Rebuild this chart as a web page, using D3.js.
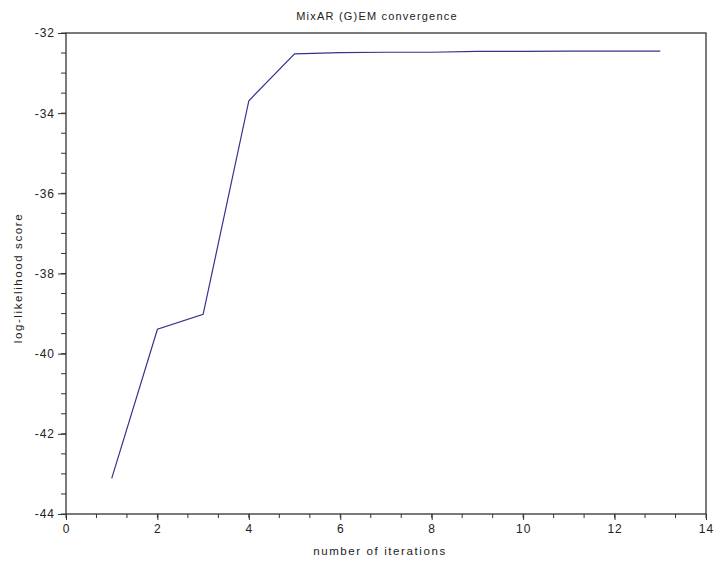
<!DOCTYPE html>
<html>
<head>
<meta charset="utf-8">
<script src="https://cdn.jsdelivr.net/npm/d3@7"></script>
<style>
  body { margin: 0; background: #fff; }
  text { font-family: "Liberation Sans", Arial, sans-serif; fill: #222; }
</style>
</head>
<body>
<div id="svg-area"></div>
<script>
// chart data
var iterations = [1, 2, 3, 4, 5, 6, 7, 8, 9, 10, 11, 12, 13];
var logLik = [-43.11, -39.39, -39.02, -33.69, -32.52, -32.49, -32.48, -32.48, -32.46, -32.46, -32.45, -32.45, -32.45];
var xTicks = [0, 2, 4, 6, 8, 10, 12, 14];
var yTicks = [-44, -42, -40, -38, -36, -34, -32];

var svgWidth = 716;
var svgHeight = 563;
// plot box (note: "top" is reserved on window, so use other names)
var plotLeft = 66, plotTop = 33, plotRight = 706, plotBottom = 514;

var svg = d3.select("#svg-area")
  .append("svg")
  .attr("width", svgWidth)
  .attr("height", svgHeight);

var xScale = d3.scaleLinear().domain([0, 14]).range([plotLeft, plotRight]);
var yScale = d3.scaleLinear().domain([-44, -32]).range([plotBottom, plotTop]);

// minor ticks
var xMinor = d3.range(0, 14.001, 2 / 3);
var yMinor = d3.range(-44, -31.999, 0.5);

var xAxis = d3.axisBottom(xScale).tickValues(xTicks).tickSize(6).tickPadding(4).tickFormat(d3.format("d"));
var yAxis = d3.axisLeft(yScale).tickValues(yTicks).tickSize(8).tickPadding(3).tickFormat(d => d < 0 ? "-" + Math.abs(d) : d);

var gx = svg.append("g").attr("transform", "translate(0," + plotBottom + ")");
gx.selectAll("line.minor").data(xMinor).enter().append("line")
  .attr("x1", d => xScale(d)).attr("x2", d => xScale(d))
  .attr("y1", 0).attr("y2", 4)
  .attr("stroke", "#333");
gx.call(xAxis);

var gy = svg.append("g").attr("transform", "translate(" + plotLeft + ",0)");
gy.selectAll("line.minor").data(yMinor).enter().append("line")
  .attr("y1", d => yScale(d)).attr("y2", d => yScale(d))
  .attr("x1", 0).attr("x2", -5)
  .attr("stroke", "#333");
gy.call(yAxis);

svg.selectAll(".domain").remove();
svg.selectAll(".tick line").attr("stroke", "#333");
svg.selectAll(".tick text")
  .style("font-size", "12px")
  .style("letter-spacing", "1px")
  .attr("fill", "#222");

// frame
svg.append("rect")
  .attr("x", plotLeft).attr("y", plotTop)
  .attr("width", plotRight - plotLeft).attr("height", plotBottom - plotTop)
  .attr("fill", "none")
  .attr("stroke", "#333")
  .attr("stroke-width", 1.3);

// the line
var createLine = d3.line()
  .x((d, i) => xScale(iterations[i]))
  .y(d => yScale(d));

svg.append("path")
  .attr("stroke", "#33338c")
  .attr("stroke-width", 1.2)
  .attr("fill", "none")
  .attr("d", createLine(logLik));

// titles
svg.append("text")
  .attr("x", 377).attr("y", 20)
  .attr("text-anchor", "middle")
  .style("font-size", "11px")
  .style("letter-spacing", "1.2px")
  .text("MixAR (G)EM convergence");

svg.append("text")
  .attr("x", 380).attr("y", 555)
  .attr("text-anchor", "middle")
  .style("font-size", "11.5px")
  .style("letter-spacing", "1.6px")
  .text("number of iterations");

svg.append("text")
  .attr("transform", "translate(22,278) rotate(-90)")
  .attr("text-anchor", "middle")
  .style("font-size", "11.5px")
  .style("letter-spacing", "1.6px")
  .text("log-likelihood score");
</script>
</body>
</html>
